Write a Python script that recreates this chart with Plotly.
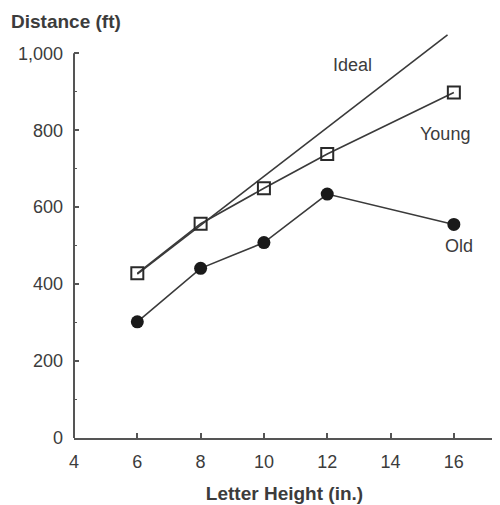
import plotly.graph_objects as go

letter_height = [6, 8, 10, 12, 16]
young = [428, 557, 649, 738, 898]
old = [302, 441, 508, 634, 555]
ideal_x = [6, 15.8]
ideal_y = [426, 1048]
y_ticks = [0, 200, 400, 600, 800, 1000]
y_tick_text = ["0", "200", "400", "600", "800", "1,000"]
y_minor = [100, 300, 500, 700, 900]
x_ticks = [4, 6, 8, 10, 12, 14, 16]

line_col = "#3a3a3a"
text_col = "#3c3c3c"
font = "Liberation Sans, Arial, Helvetica, sans-serif"

# page offset of 8px (body margin) compensated in margins
L, R, T, B = 66, 13, 26, 75
W, H = 500, 505
plot_w = W - L - R
plot_h = H - T - B

fig = go.Figure()
fig.add_trace(go.Scatter(x=ideal_x, y=ideal_y, mode="lines",
                         line=dict(color=line_col, width=1.6), showlegend=False))
fig.add_trace(go.Scatter(x=letter_height, y=young, mode="lines+markers",
                         line=dict(color=line_col, width=1.6),
                         marker=dict(symbol="square-open", size=12, color="#2a2a2a",
                                     line=dict(width=2, color="#2a2a2a")),
                         showlegend=False))
fig.add_trace(go.Scatter(x=letter_height, y=old, mode="lines+markers",
                         line=dict(color=line_col, width=1.6),
                         marker=dict(symbol="circle", size=13, color="#1a1a1a"),
                         showlegend=False))

fig.add_shape(type="line", xref="paper", yref="y", x0=0, x1=0, y0=0, y1=1000,
              line=dict(color="#555555", width=2))

fig.add_annotation(x=12.8, y=969, text="Ideal", showarrow=False, xref="x", yref="y",
                   font=dict(size=18, color=text_col, family=font))
fig.add_annotation(x=15.72, y=790, text="Young", showarrow=False, xref="x", yref="y",
                   font=dict(size=18, color=text_col, family=font))
fig.add_annotation(x=16.16, y=498, text="Old", showarrow=False, xref="x", yref="y",
                   font=dict(size=18, color=text_col, family=font))
fig.add_annotation(x=(1 - L) / plot_w, y=(H - B - 14) / plot_h,
                   text="<b>Distance (ft)</b>", showarrow=False,
                   xref="paper", yref="paper", xanchor="left", yanchor="middle",
                   font=dict(size=19, color=text_col, family=font))

fig.update_layout(
    width=W, height=H,
    margin=dict(l=L, r=R, t=T, b=B, autoexpand=False),
    plot_bgcolor="white", paper_bgcolor="white",
    font=dict(family=font, size=18, color=text_col),
    xaxis=dict(range=[4, 17.3], tickvals=x_ticks, ticks="inside", ticklen=5,
               tickwidth=1.5, tickcolor="#555555", showline=True, linecolor="#555555",
               linewidth=2, showgrid=False, zeroline=False, ticklabelstandoff=6,
               title=dict(text="<b>Letter Height (in.)</b>", standoff=16,
                          font=dict(size=19, color=text_col))),
    yaxis=dict(range=[0, 1050], tickvals=y_ticks, ticktext=y_tick_text,
               ticks="inside", ticklen=5, tickwidth=1.5, tickcolor="#555555",
               showline=False, showgrid=False, zeroline=False, ticklabelstandoff=10,
               minor=dict(tickvals=y_minor, ticks="inside", ticklen=3,
                          tickcolor="#555555", tickwidth=1.2)),
)
fig.write_html("out.html")
